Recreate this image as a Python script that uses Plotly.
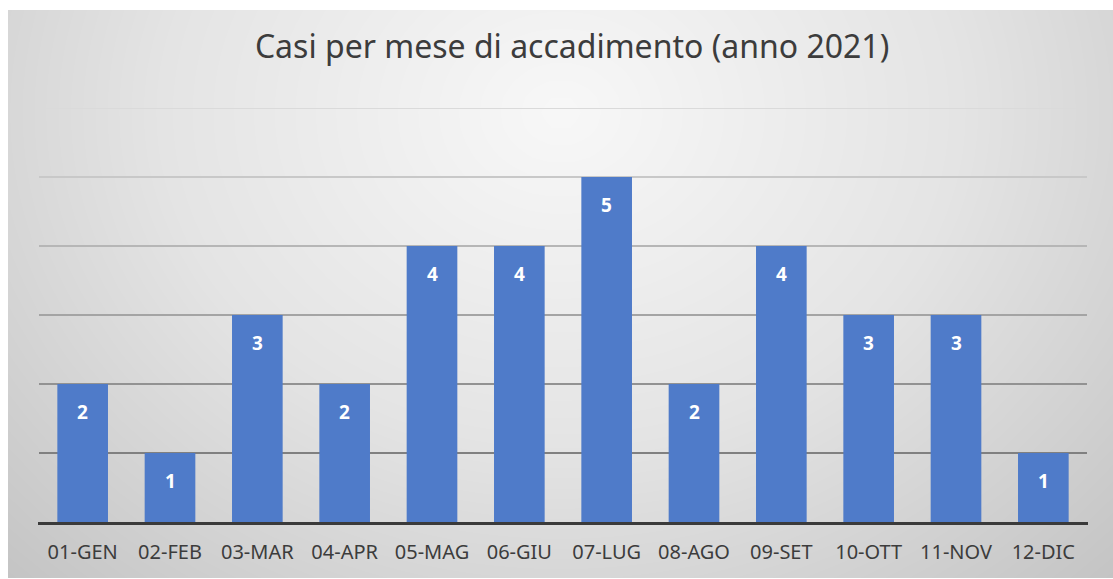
import numpy as np
import plotly.graph_objects as go

# Monthly case counts, 2021
mesi = ["01-GEN", "02-FEB", "03-MAR", "04-APR", "05-MAG", "06-GIU",
        "07-LUG", "08-AGO", "09-SET", "10-OTT", "11-NOV", "12-DIC"]
casi = [2, 1, 3, 2, 4, 4, 5, 2, 4, 3, 3, 1]
y_ticks = [0, 1, 2, 3, 4, 5, 6]

W, H = 1113, 579
BAR = "#4f7bc9"
TXT = "#3c3c3c"
FONT = "Noto Sans"

fig = go.Figure()

# Soft radial backdrop over the whole chart card
gx = np.linspace(0, 1, 60)
gy = np.linspace(0, 1, 40)
GX, GY = np.meshgrid(gx, gy)
shade = np.sqrt(((GX - 0.5) / 0.62) ** 2 + ((GY - 0.82) / 1.0) ** 2)
fig.add_trace(go.Heatmap(
    x=gx, y=gy, z=shade, zsmooth="best", showscale=False, hoverinfo="skip",
    colorscale=[[0, "#f7f7f7"], [0.5, "#e4e4e4"], [1, "#c4c4c4"]],
    xaxis="x", yaxis="y",
))

# Bars
fig.add_trace(go.Bar(
    x=mesi, y=casi, marker=dict(color=BAR, line=dict(width=0)),
    xaxis="x2", yaxis="y2", hoverinfo="x+y",
))

# Value labels inside the top of each bar
for m, v in zip(mesi, casi):
    fig.add_annotation(
        x=m, y=v, xref="x2", yref="y2", text=f"<b>{v}</b>", showarrow=False,
        yshift=-28, font=dict(family=FONT, size=19, color="white"),
    )

# Horizontal gridlines behind the bars, darkening toward the baseline
for t in y_ticks[1:]:
    g = int(128 + (t - 1) * (218 - 128) / 5)
    fig.add_shape(
        type="line", xref="x2", yref="y2", x0=-0.5, x1=len(mesi) - 0.5,
        y0=t, y1=t, line=dict(color=f"rgb({g},{g},{g})", width=2),
        layer="below",
    )

fig.update_layout(
    width=W, height=H,
    margin=dict(l=0, r=0, t=0, b=0),
    paper_bgcolor="white", plot_bgcolor="rgba(0,0,0,0)",
    showlegend=False, bargap=0.42,
    title=dict(
        text="Casi per mese di accadimento (anno 2021)",
        x=0.514, xanchor="center", y=1 - 47 / H, yanchor="middle",
        font=dict(family=FONT, size=32, color=TXT),
    ),
    xaxis=dict(domain=[8 / W, 1], range=[0, 1], visible=False, fixedrange=True),
    yaxis=dict(domain=[1 / H, 1 - 10 / H], range=[0, 1], visible=False, fixedrange=True),
    xaxis2=dict(
        domain=[38 / W, 1088 / W], anchor="y2", showgrid=False,
        showline=True, linecolor="#3a3a3a", linewidth=3, ticks="",
        tickfont=dict(family=FONT, size=20, color=TXT), ticklabelstandoff=10,
    ),
    yaxis2=dict(
        domain=[57 / H, (H - 108) / H], anchor="x2", range=[0, 6],
        tickvals=y_ticks, showgrid=False, showticklabels=False, zeroline=False,
    ),
)

fig.write_html("out.html")
